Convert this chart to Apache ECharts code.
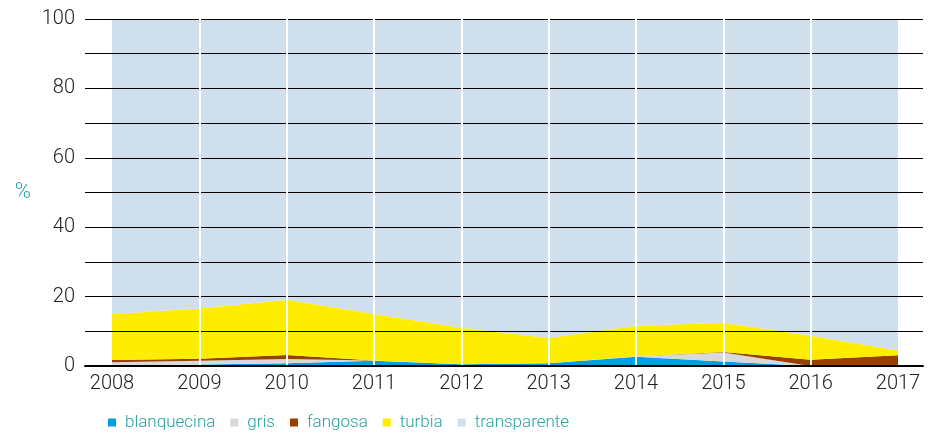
<!DOCTYPE html>
<html lang="es">
<head>
  <meta charset="UTF-8">
  <title>Aspecto del agua</title>
  <style>
    html, body { margin: 0; padding: 0; background: #fff; }
    #main { width: 928px; height: 441px; }
  </style>
</head>
<body>
  <div id="main"></div>
  <script src="https://cdn.jsdelivr.net/npm/echarts@6/dist/echarts.min.js"></script>
  <script>
    // años y porcentajes
    const years = ['2008', '2009', '2010', '2011', '2012', '2013', '2014', '2015', '2016', '2017']
    const blanquecina = [0, 0.4, 0.8, 1.5, 0.5, 0.8, 2.7, 1.3, 0, 0.3]
    const gris = [1.1, 1.1, 1.2, 0.1, 0, 0, 0.1, 2.6, 0, 0]
    const fangosa = [0.6, 0.6, 1.2, 0, 0, 0, 0, 0.1, 1.8, 2.8]
    const turbia = [13.3, 14.5, 15.9, 13.4, 10.5, 7.3, 8.8, 8.5, 6.9, 1.4]
    const transparente = [85.0, 83.4, 80.9, 85.0, 89.0, 91.9, 88.4, 87.5, 91.3, 95.5]
    const yTicks = [0, 20, 40, 60, 80, 100]

    const names = ['blanquecina', 'gris', 'fangosa', 'turbia', 'transparente']
    const colors = ['#009fe3', '#d9d9d9', '#994000', '#ffed00', '#cfdfed']
    const values = [blanquecina, gris, fangosa, turbia, transparente]

    const font = 'Roboto, "Liberation Sans", sans-serif'
    const teal = '#26a3a3'

    const myChart = echarts.init(document.getElementById('main'))

    const series = names.map(function (name, i) {
      const s = {
        name: name,
        type: 'line',
        stack: 'total',
        xAxisIndex: 0,
        yAxisIndex: 0,
        color: colors[i],
        showSymbol: false,
        symbol: 'none',
        lineStyle: { width: 0 },
        areaStyle: { color: colors[i], opacity: 1 },
        data: values[i],
        silent: true
      }
      if (i === names.length - 1) {
        // líneas verticales blancas en cada año
        s.markLine = {
          silent: true,
          symbol: 'none',
          label: { show: false },
          lineStyle: { color: '#ffffff', width: 2, type: 'solid' },
          data: years.slice(1, -1).map(function (y) { return { xAxis: y } })
        }
      }
      return s
    })

    const option = {
      animation: false,
      grid: [
        // zona de datos
        { left: 112, right: 30, top: 19, bottom: 75 },
        // marco con las líneas horizontales, más ancho
        { left: 85, right: 5, top: 19, bottom: 75 }
      ],
      legend: {
        left: 103,
        top: 409,
        icon: 'rect',
        itemWidth: 8,
        itemHeight: 8,
        itemGap: 15,
        selectedMode: false,
        textStyle: { color: teal, fontSize: 17, fontFamily: font, fontWeight: 300, padding: [0, 0, 0, 4] },
        data: names
      },
      xAxis: [
        {
          type: 'category',
          gridIndex: 0,
          data: years,
          boundaryGap: false,
          axisLine: { show: false },
          axisTick: { show: false },
          splitLine: { show: false },
          axisLabel: {
            color: '#222',
            fontSize: 20,
            fontFamily: font,
            fontWeight: 300,
            margin: 8
          }
        },
        {
          type: 'value',
          gridIndex: 1,
          min: 0,
          max: 1,
          z: 6,
          axisLine: { show: true, lineStyle: { color: '#000', width: 2 } },
          axisTick: { show: false },
          axisLabel: { show: false },
          splitLine: { show: false }
        }
      ],
      yAxis: [
        {
          type: 'value',
          gridIndex: 0,
          min: 0,
          max: 100,
          show: false
        },
        {
          type: 'value',
          gridIndex: 1,
          min: 0,
          max: 100,
          interval: 10,
          z: 5,
          name: '%',
          nameLocation: 'middle',
          nameRotate: 0,
          nameGap: 54,
          nameTextStyle: { color: teal, fontSize: 22, fontFamily: font, fontWeight: 300 },
          axisLine: { show: false },
          axisTick: { show: false },
          splitLine: { show: true, lineStyle: { color: '#000', width: 1 } },
          axisLabel: {
            color: '#222',
            fontSize: 20,
            fontFamily: font,
            fontWeight: 300,
            margin: 10,
            formatter: function (v) { return yTicks.indexOf(v) >= 0 ? String(v) : '' }
          }
        }
      ],
      series: series
    }
    myChart.setOption(option)
  </script>
</body>
</html>
